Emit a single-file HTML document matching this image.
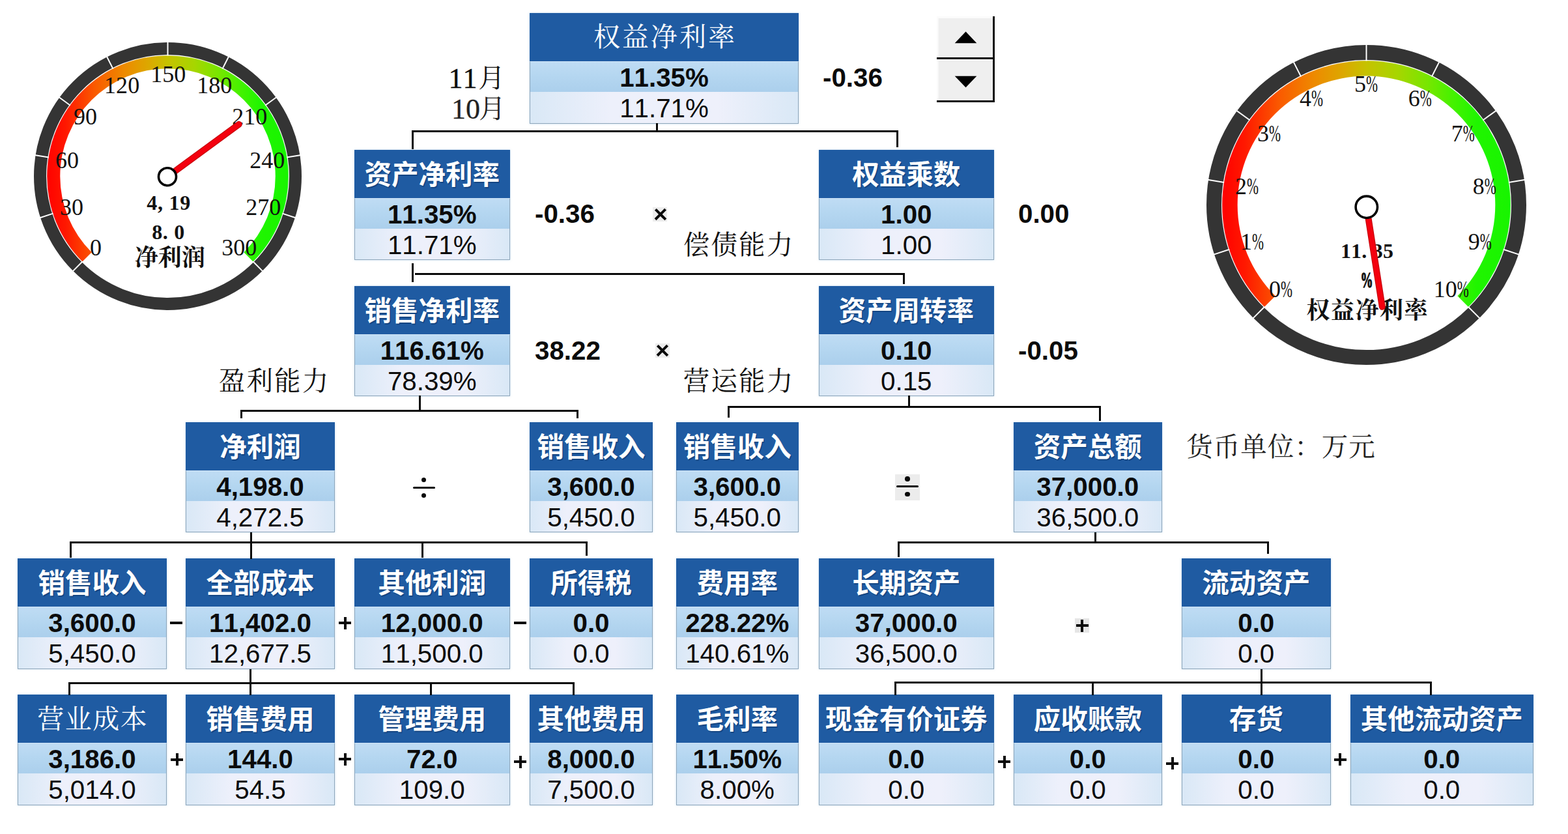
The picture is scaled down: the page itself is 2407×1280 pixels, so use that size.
<!DOCTYPE html>
<html lang="zh"><head><meta charset="utf-8"><title>杜邦分析</title>
<style>
html,body{margin:0;padding:0}
body{width:2407px;height:1280px;position:relative;overflow:hidden;background:#fff;font-family:"Liberation Sans",sans-serif;color:#0b0b0b;font-kerning:none}
.g{position:absolute;overflow:visible}
.bx{position:absolute;box-sizing:border-box;box-shadow:0 0 3px rgba(150,195,230,.55)}
.hd{height:74px;background:#1f5ba2}
.r1,.r2{box-sizing:border-box;text-align:center;font-size:40.3px;white-space:nowrap;border-left:1.5px solid #8ea6ba;border-right:1.5px solid #8ea6ba}
.r1{height:47px;line-height:50px;font-weight:bold;background:linear-gradient(#bfdcf4,#b4d6f0 50%,#abcfec);border-top:1.5px solid #cfe4f6}
.r2{height:48.5px;line-height:51px;background:linear-gradient(90deg,#d9e8f6,#edf0fb 30%,#eef0fb 70%,#d9e8f6);border-bottom:1.5px solid #8ea6ba}
.ln{position:absolute;background:#0a0a0a;display:block}
.t{position:absolute;white-space:nowrap;font-size:40.3px;line-height:40px}
.b{font-weight:bold}
.ht{position:absolute;white-space:nowrap;line-height:1}
.hb{color:#fff;font-weight:bold;font-family:"Liberation Sans","Noto Sans CJK SC",sans-serif;text-shadow:1.5px 2px 0 rgba(13,52,104,.55)}
.hs{color:#fff;font-family:"Liberation Serif","Noto Serif CJK SC",serif}
.ls{color:#111;font-family:"Liberation Serif","Noto Serif CJK SC",serif}
.gl{font-family:"Liberation Serif","Noto Serif CJK SC",serif;fill:#111}
.op{position:absolute;background:#0a0a0a}
</style></head><body>

<div class="bx" style="left:813.0px;top:20.0px;width:413.0px">
<div class="hd"></div><div class="r1">11.35%</div><div class="r2">11.71%</div></div>
<span class="ht hs" style="left:911.0px;top:37.4px;font-size:41px;letter-spacing:3px">权益净利率</span>
<div class="bx" style="left:543.5px;top:229.5px;width:239.5px">
<div class="hd"></div><div class="r1">11.35%</div><div class="r2">11.71%</div></div>
<span class="ht hb" style="left:559.5px;top:247.6px;font-size:41.5px;letter-spacing:0px">资产净利率</span>
<div class="bx" style="left:1256.5px;top:229.5px;width:269.5px">
<div class="hd"></div><div class="r1">1.00</div><div class="r2">1.00</div></div>
<span class="ht hb" style="left:1308.2px;top:247.6px;font-size:41.5px;letter-spacing:0px">权益乘数</span>
<div class="bx" style="left:543.5px;top:438.7px;width:239.5px">
<div class="hd"></div><div class="r1">116.61%</div><div class="r2">78.39%</div></div>
<span class="ht hb" style="left:559.5px;top:456.8px;font-size:41.5px;letter-spacing:0px">销售净利率</span>
<div class="bx" style="left:1256.5px;top:438.7px;width:269.5px">
<div class="hd"></div><div class="r1">0.10</div><div class="r2">0.15</div></div>
<span class="ht hb" style="left:1287.5px;top:456.8px;font-size:41.5px;letter-spacing:0px">资产周转率</span>
<div class="bx" style="left:285.0px;top:647.5px;width:229.0px">
<div class="hd"></div><div class="r1">4,198.0</div><div class="r2">4,272.5</div></div>
<span class="ht hb" style="left:337.2px;top:665.6px;font-size:41.5px;letter-spacing:0px">净利润</span>
<div class="bx" style="left:813.0px;top:647.5px;width:189.0px">
<div class="hd"></div><div class="r1">3,600.0</div><div class="r2">5,450.0</div></div>
<span class="ht hb" style="left:824.5px;top:665.6px;font-size:41.5px;letter-spacing:0px">销售收入</span>
<div class="bx" style="left:1037.5px;top:647.5px;width:188.5px">
<div class="hd"></div><div class="r1">3,600.0</div><div class="r2">5,450.0</div></div>
<span class="ht hb" style="left:1048.8px;top:665.6px;font-size:41.5px;letter-spacing:0px">销售收入</span>
<div class="bx" style="left:1555.5px;top:647.5px;width:228.5px">
<div class="hd"></div><div class="r1">37,000.0</div><div class="r2">36,500.0</div></div>
<span class="ht hb" style="left:1586.8px;top:665.6px;font-size:41.5px;letter-spacing:0px">资产总额</span>
<div class="bx" style="left:27.0px;top:857.0px;width:229.0px">
<div class="hd"></div><div class="r1">3,600.0</div><div class="r2">5,450.0</div></div>
<span class="ht hb" style="left:58.5px;top:875.1px;font-size:41.5px;letter-spacing:0px">销售收入</span>
<div class="bx" style="left:285.0px;top:857.0px;width:229.0px">
<div class="hd"></div><div class="r1">11,402.0</div><div class="r2">12,677.5</div></div>
<span class="ht hb" style="left:316.5px;top:875.1px;font-size:41.5px;letter-spacing:0px">全部成本</span>
<div class="bx" style="left:543.5px;top:857.0px;width:239.5px">
<div class="hd"></div><div class="r1">12,000.0</div><div class="r2">11,500.0</div></div>
<span class="ht hb" style="left:580.2px;top:875.1px;font-size:41.5px;letter-spacing:0px">其他利润</span>
<div class="bx" style="left:813.0px;top:857.0px;width:189.0px">
<div class="hd"></div><div class="r1">0.0</div><div class="r2">0.0</div></div>
<span class="ht hb" style="left:845.2px;top:875.1px;font-size:41.5px;letter-spacing:0px">所得税</span>
<div class="bx" style="left:1037.5px;top:857.0px;width:188.5px">
<div class="hd"></div><div class="r1">228.22%</div><div class="r2">140.61%</div></div>
<span class="ht hb" style="left:1069.5px;top:875.1px;font-size:41.5px;letter-spacing:0px">费用率</span>
<div class="bx" style="left:1256.5px;top:857.0px;width:269.5px">
<div class="hd"></div><div class="r1">37,000.0</div><div class="r2">36,500.0</div></div>
<span class="ht hb" style="left:1308.2px;top:875.1px;font-size:41.5px;letter-spacing:0px">长期资产</span>
<div class="bx" style="left:1814.0px;top:857.0px;width:228.5px">
<div class="hd"></div><div class="r1">0.0</div><div class="r2">0.0</div></div>
<span class="ht hb" style="left:1845.2px;top:875.1px;font-size:41.5px;letter-spacing:0px">流动资产</span>
<div class="bx" style="left:27.0px;top:1066.3px;width:229.0px">
<div class="hd"></div><div class="r1">3,186.0</div><div class="r2">5,014.0</div></div>
<span class="ht hs" style="left:57.2px;top:1083.7px;font-size:41px;letter-spacing:1.5px">营业成本</span>
<div class="bx" style="left:285.0px;top:1066.3px;width:229.0px">
<div class="hd"></div><div class="r1">144.0</div><div class="r2">54.5</div></div>
<span class="ht hb" style="left:316.5px;top:1084.4px;font-size:41.5px;letter-spacing:0px">销售费用</span>
<div class="bx" style="left:543.5px;top:1066.3px;width:239.5px">
<div class="hd"></div><div class="r1">72.0</div><div class="r2">109.0</div></div>
<span class="ht hb" style="left:580.2px;top:1084.4px;font-size:41.5px;letter-spacing:0px">管理费用</span>
<div class="bx" style="left:813.0px;top:1066.3px;width:189.0px">
<div class="hd"></div><div class="r1">8,000.0</div><div class="r2">7,500.0</div></div>
<span class="ht hb" style="left:824.5px;top:1084.4px;font-size:41.5px;letter-spacing:0px">其他费用</span>
<div class="bx" style="left:1037.5px;top:1066.3px;width:188.5px">
<div class="hd"></div><div class="r1">11.50%</div><div class="r2">8.00%</div></div>
<span class="ht hb" style="left:1069.5px;top:1084.4px;font-size:41.5px;letter-spacing:0px">毛利率</span>
<div class="bx" style="left:1256.5px;top:1066.3px;width:269.5px">
<div class="hd"></div><div class="r1">0.0</div><div class="r2">0.0</div></div>
<span class="ht hb" style="left:1266.8px;top:1084.4px;font-size:41.5px;letter-spacing:0px">现金有价证券</span>
<div class="bx" style="left:1555.5px;top:1066.3px;width:228.5px">
<div class="hd"></div><div class="r1">0.0</div><div class="r2">0.0</div></div>
<span class="ht hb" style="left:1586.8px;top:1084.4px;font-size:41.5px;letter-spacing:0px">应收账款</span>
<div class="bx" style="left:1814.0px;top:1066.3px;width:228.5px">
<div class="hd"></div><div class="r1">0.0</div><div class="r2">0.0</div></div>
<span class="ht hb" style="left:1886.8px;top:1084.4px;font-size:41.5px;letter-spacing:0px">存货</span>
<div class="bx" style="left:2073.0px;top:1066.3px;width:280.5px">
<div class="hd"></div><div class="r1">0.0</div><div class="r2">0.0</div></div>
<span class="ht hb" style="left:2088.8px;top:1084.4px;font-size:41.5px;letter-spacing:0px">其他流动资产</span>
<i class="ln" style="left:1006.5px;top:189.0px;width:3.0px;height:13.0px"></i>
<i class="ln" style="left:631.5px;top:200.0px;width:747.0px;height:3.0px"></i>
<i class="ln" style="left:631.5px;top:201.0px;width:3.0px;height:28.0px"></i>
<i class="ln" style="left:1375.5px;top:201.0px;width:3.0px;height:25.0px"></i>
<i class="ln" style="left:631.5px;top:404.0px;width:3.0px;height:29.0px"></i>
<i class="ln" style="left:636.5px;top:419.0px;width:752.0px;height:3.0px"></i>
<i class="ln" style="left:1385.5px;top:420.0px;width:3.0px;height:16.0px"></i>
<i class="ln" style="left:643.0px;top:607.0px;width:3.0px;height:25.0px"></i>
<i class="ln" style="left:369.0px;top:629.0px;width:518.5px;height:3.0px"></i>
<i class="ln" style="left:369.0px;top:630.0px;width:3.0px;height:12.0px"></i>
<i class="ln" style="left:884.5px;top:630.0px;width:3.0px;height:12.0px"></i>
<i class="ln" style="left:1393.5px;top:607.0px;width:3.0px;height:19.0px"></i>
<i class="ln" style="left:1116.5px;top:623.0px;width:573.0px;height:3.0px"></i>
<i class="ln" style="left:1116.5px;top:624.0px;width:3.0px;height:17.0px"></i>
<i class="ln" style="left:1686.5px;top:624.0px;width:3.0px;height:22.0px"></i>
<i class="ln" style="left:384.0px;top:817.0px;width:3.0px;height:41.0px"></i>
<i class="ln" style="left:106.5px;top:830.5px;width:795.0px;height:3.0px"></i>
<i class="ln" style="left:106.5px;top:832.0px;width:3.0px;height:24.0px"></i>
<i class="ln" style="left:647.0px;top:832.0px;width:3.0px;height:24.0px"></i>
<i class="ln" style="left:898.5px;top:832.0px;width:3.0px;height:21.0px"></i>
<i class="ln" style="left:383.2px;top:1027.0px;width:3.0px;height:40.0px"></i>
<i class="ln" style="left:105.0px;top:1046.5px;width:776.7px;height:3.0px"></i>
<i class="ln" style="left:105.0px;top:1048.0px;width:3.0px;height:19.0px"></i>
<i class="ln" style="left:660.0px;top:1048.0px;width:3.0px;height:19.0px"></i>
<i class="ln" style="left:878.7px;top:1048.0px;width:3.0px;height:19.0px"></i>
<i class="ln" style="left:1679.5px;top:817.0px;width:3.0px;height:16.0px"></i>
<i class="ln" style="left:1378.0px;top:831.0px;width:570.0px;height:3.0px"></i>
<i class="ln" style="left:1378.0px;top:832.0px;width:3.0px;height:23.0px"></i>
<i class="ln" style="left:1945.0px;top:832.0px;width:3.0px;height:18.0px"></i>
<i class="ln" style="left:1934.7px;top:1027.0px;width:3.0px;height:40.0px"></i>
<i class="ln" style="left:1372.5px;top:1046.0px;width:825.5px;height:3.0px"></i>
<i class="ln" style="left:1372.5px;top:1047.0px;width:3.0px;height:20.0px"></i>
<i class="ln" style="left:1675.9px;top:1047.0px;width:3.0px;height:20.0px"></i>
<i class="ln" style="left:2195.0px;top:1047.0px;width:3.0px;height:20.0px"></i>
<div class="t b" style="left:1263.0px;top:100.0px">-0.36</div>
<div class="t b" style="left:821.0px;top:309.2px">-0.36</div>
<div class="t b" style="left:1563.0px;top:309.2px">0.00</div>
<div class="t b" style="left:821.0px;top:518.5px">38.22</div>
<div class="t b" style="left:1563.0px;top:518.5px">-0.05</div>
<i class="op" style="background:#ededed;left:1002.4px;top:318.0px;width:22.0px;height:22.0px"></i>
<i class="op" style="left:1002.5px;top:326.8px;width:21.7px;height:4.4px;transform:rotate(45deg)"></i>
<i class="op" style="left:1002.5px;top:326.8px;width:21.7px;height:4.4px;transform:rotate(-45deg)"></i>
<i class="op" style="background:#ededed;left:1005.5px;top:527.0px;width:22.0px;height:22.0px"></i>
<i class="op" style="left:1005.6px;top:535.8px;width:21.7px;height:4.4px;transform:rotate(45deg)"></i>
<i class="op" style="left:1005.6px;top:535.8px;width:21.7px;height:4.4px;transform:rotate(-45deg)"></i>
<i class="op" style="border-radius:2px;left:633.5px;top:746.8px;width:34.0px;height:3.5px"></i>
<i class="op" style="border-radius:50%;left:647.0px;top:733.2px;width:7.0px;height:7.0px"></i>
<i class="op" style="border-radius:50%;left:647.0px;top:756.8px;width:7.0px;height:7.0px"></i>
<i class="op" style="background:#ececec;left:1374.0px;top:727.7px;width:38.3px;height:40.3px"></i>
<i class="op" style="border-radius:2px;left:1376.2px;top:744.9px;width:34.0px;height:3.4px"></i>
<i class="op" style="border-radius:50%;left:1389.4px;top:731.1px;width:7.6px;height:7.6px"></i>
<i class="op" style="border-radius:50%;left:1389.4px;top:754.6px;width:7.6px;height:7.6px"></i>
<i class="op" style="left:261.2px;top:954.0px;width:19.0px;height:4.0px"></i>
<i class="op" style="left:520.0px;top:954.0px;width:19.0px;height:4.0px"></i>
<i class="op" style="left:527.5px;top:946.5px;width:4.0px;height:19.0px"></i>
<i class="op" style="left:789.2px;top:954.0px;width:19.0px;height:4.0px"></i>
<i class="op" style="left:262.2px;top:1163.5px;width:19.0px;height:4.0px"></i>
<i class="op" style="left:269.7px;top:1156.0px;width:4.0px;height:19.0px"></i>
<i class="op" style="left:520.0px;top:1163.0px;width:19.0px;height:4.0px"></i>
<i class="op" style="left:527.5px;top:1155.5px;width:4.0px;height:19.0px"></i>
<i class="op" style="left:789.2px;top:1167.0px;width:19.0px;height:4.0px"></i>
<i class="op" style="left:796.7px;top:1159.5px;width:4.0px;height:19.0px"></i>
<i class="op" style="background:#e6e6e6;left:1650.4px;top:949.3px;width:22.0px;height:22.0px"></i>
<i class="op" style="left:1651.9px;top:958.3px;width:19.0px;height:4.0px"></i>
<i class="op" style="left:1659.4px;top:950.8px;width:4.0px;height:19.0px"></i>
<i class="op" style="left:1532.2px;top:1167.0px;width:19.0px;height:4.0px"></i>
<i class="op" style="left:1539.7px;top:1159.5px;width:4.0px;height:19.0px"></i>
<i class="op" style="left:1790.1px;top:1169.5px;width:19.0px;height:4.0px"></i>
<i class="op" style="left:1797.6px;top:1162.0px;width:4.0px;height:19.0px"></i>
<i class="op" style="left:2047.9px;top:1163.5px;width:19.0px;height:4.0px"></i>
<i class="op" style="left:2055.4px;top:1156.0px;width:4.0px;height:19.0px"></i>
<span class="ht ls" style="left:1048.7px;top:357.4px;font-size:40.5px;letter-spacing:2.2px">偿债能力</span>
<span class="ht ls" style="left:335.7px;top:566.4px;font-size:40.5px;letter-spacing:2.2px">盈利能力</span>
<span class="ht ls" style="left:1048.7px;top:566.4px;font-size:40.5px;letter-spacing:2.2px">营运能力</span>
<span class="ht ls" style="left:1821.2px;top:667.4px;font-size:40.5px;letter-spacing:1px;color:#222">货币单位：万元</span>
<div class="t" style="font-family:'Liberation Serif',serif;left:688.5px;top:100.5px;font-size:44px;-webkit-text-stroke:.4px #111">11</div>
<span class="ht ls" style="left:734.0px;top:100.4px;font-size:41px;letter-spacing:0px">月</span>
<div class="t" style="font-family:'Liberation Serif',serif;left:693px;top:147.8px;font-size:44px;color:#222;-webkit-text-stroke:.3px #222">10</div>
<span class="ht ls" style="left:735.0px;top:147.4px;font-size:41px;letter-spacing:0px;color:#222">月</span>
<div style="position:absolute;left:1438px;top:25px;width:86px;height:129px;background:#efefef;border-right:3px solid #111;border-bottom:3px solid #111;box-shadow:inset 2.5px 3px 0 #fbfbfb"></div>
<i class="op" style="left:1438px;top:87.5px;width:86px;height:3px"></i><i class="op" style="background:#fbfbfb;left:1438px;top:90.5px;width:86px;height:2.6px"></i>
<svg class="g" style="left:1438px;top:25px" width="88" height="131" viewBox="1438 25 88 131"><path d="M1482.5 48.6L1499.3 66.2H1465.7Z"/><path d="M1482.5 134.3L1499.3 116.7H1465.7Z"/></svg>
<svg class="g" style="left:46.0px;top:59.3px" width="423" height="423" viewBox="46.0 59.3 422.6 422.6"><defs><linearGradient id="grL" gradientUnits="userSpaceOnUse" x1="71.0" y1="0" x2="443.6" y2="0"><stop offset="0" stop-color="#ff0000"/><stop offset="0.08" stop-color="#ff1800"/><stop offset="0.2" stop-color="#fa5a00"/><stop offset="0.32" stop-color="#ee8a00"/><stop offset="0.42" stop-color="#dca800"/><stop offset="0.5" stop-color="#c6c200"/><stop offset="0.61" stop-color="#a6d600"/><stop offset="0.71" stop-color="#78e600"/><stop offset="0.8" stop-color="#44f200"/><stop offset="0.88" stop-color="#20f500"/><stop offset="1" stop-color="#18f400"/></linearGradient></defs><circle cx="257.3" cy="270.6" r="195.8" fill="none" stroke="#343434" stroke-width="19.0"/><path d="M126.4 401.5A185.1 185.1 0 1 1 388.2 401.5L374.0 387.3A165.1 165.1 0 1 0 140.6 387.3Z" fill="url(#grL)"/><line x1="126.6" y1="401.3" x2="111.1" y2="416.8" stroke="#fff" stroke-width="2"/><line x1="81.5" y1="327.7" x2="60.6" y2="334.5" stroke="#fff" stroke-width="2"/><line x1="74.8" y1="241.7" x2="53.0" y2="238.2" stroke="#fff" stroke-width="2"/><line x1="107.8" y1="162.0" x2="90.0" y2="149.0" stroke="#fff" stroke-width="2"/><line x1="173.4" y1="105.9" x2="163.4" y2="86.3" stroke="#fff" stroke-width="2"/><line x1="257.3" y1="85.8" x2="257.3" y2="63.8" stroke="#fff" stroke-width="2"/><line x1="341.2" y1="105.9" x2="351.2" y2="86.3" stroke="#fff" stroke-width="2"/><line x1="406.8" y1="162.0" x2="424.6" y2="149.0" stroke="#fff" stroke-width="2"/><line x1="439.8" y1="241.7" x2="461.6" y2="238.2" stroke="#fff" stroke-width="2"/><line x1="433.1" y1="327.7" x2="454.0" y2="334.5" stroke="#fff" stroke-width="2"/><line x1="388.0" y1="401.3" x2="403.5" y2="416.8" stroke="#fff" stroke-width="2"/><text x="147.0" y="392.0" class="gl" font-size="36" text-anchor="middle">0</text><text x="110.0" y="330.0" class="gl" font-size="36" text-anchor="middle">30</text><text x="103.0" y="258.0" class="gl" font-size="36" text-anchor="middle">60</text><text x="131.0" y="191.0" class="gl" font-size="36" text-anchor="middle">90</text><text x="187.0" y="143.0" class="gl" font-size="36" text-anchor="middle">120</text><text x="258.0" y="126.0" class="gl" font-size="36" text-anchor="middle">150</text><text x="329.0" y="143.0" class="gl" font-size="36" text-anchor="middle">180</text><text x="383.0" y="191.0" class="gl" font-size="36" text-anchor="middle">210</text><text x="410.0" y="258.0" class="gl" font-size="36" text-anchor="middle">240</text><text x="404.0" y="330.0" class="gl" font-size="36" text-anchor="middle">270</text><text x="367.0" y="392.0" class="gl" font-size="36" text-anchor="middle">300</text><text x="225" y="322" font-size="32" font-weight="bold" textLength="67" class="gl">4, 19</text><text x="233" y="367" font-size="32" font-weight="bold" textLength="50" class="gl">8. 0</text><text x="206.5" y="408" font-size="36" font-weight="bold" class="gl">净利润</text><line x1="269.1" y1="262.3" x2="366.5" y2="191.0" stroke="#c8000c" stroke-width="10" stroke-linecap="round"/><line x1="269.1" y1="262.3" x2="366.5" y2="191.0" stroke="#f4000f" stroke-width="7.5" stroke-linecap="round"/><circle cx="256.8" cy="271.3" r="13.5" fill="#fff" stroke="#000" stroke-width="3.6"/></svg>
<svg class="g" style="left:1846.0px;top:62.5px" width="503" height="503" viewBox="1846.0 62.5 503.2 503.2"><defs><linearGradient id="grR" gradientUnits="userSpaceOnUse" x1="1875.0" y1="0" x2="2320.2" y2="0"><stop offset="0" stop-color="#ff0000"/><stop offset="0.08" stop-color="#ff1800"/><stop offset="0.2" stop-color="#fa5a00"/><stop offset="0.32" stop-color="#ee8a00"/><stop offset="0.42" stop-color="#dca800"/><stop offset="0.5" stop-color="#c6c200"/><stop offset="0.61" stop-color="#a6d600"/><stop offset="0.71" stop-color="#78e600"/><stop offset="0.8" stop-color="#44f200"/><stop offset="0.88" stop-color="#20f500"/><stop offset="1" stop-color="#18f400"/></linearGradient></defs><circle cx="2097.6" cy="314.1" r="234.1" fill="none" stroke="#343434" stroke-width="23.0"/><path d="M1941.0 470.7A221.4 221.4 0 1 1 2254.2 470.7L2237.5 454.0A197.9 197.9 0 1 0 1957.7 454.0Z" fill="url(#grR)"/><line x1="1941.3" y1="470.4" x2="1922.9" y2="488.8" stroke="#fff" stroke-width="2"/><line x1="1887.3" y1="382.4" x2="1862.6" y2="390.5" stroke="#fff" stroke-width="2"/><line x1="1879.2" y1="279.5" x2="1853.5" y2="275.4" stroke="#fff" stroke-width="2"/><line x1="1918.7" y1="184.1" x2="1897.7" y2="168.9" stroke="#fff" stroke-width="2"/><line x1="1997.2" y1="117.1" x2="1985.4" y2="93.9" stroke="#fff" stroke-width="2"/><line x1="2097.6" y1="93.0" x2="2097.6" y2="67.0" stroke="#fff" stroke-width="2"/><line x1="2198.0" y1="117.1" x2="2209.8" y2="93.9" stroke="#fff" stroke-width="2"/><line x1="2276.5" y1="184.1" x2="2297.5" y2="168.9" stroke="#fff" stroke-width="2"/><line x1="2316.0" y1="279.5" x2="2341.7" y2="275.4" stroke="#fff" stroke-width="2"/><line x1="2307.9" y1="382.4" x2="2332.6" y2="390.5" stroke="#fff" stroke-width="2"/><line x1="2253.9" y1="470.4" x2="2272.3" y2="488.8" stroke="#fff" stroke-width="2"/><text x="1948.0" y="456.0" class="gl" font-size="36">0</text><text transform="translate(1966.0,456.0) scale(.6,1)" class="gl" font-size="36">%</text><text x="1904.0" y="383.0" class="gl" font-size="36">1</text><text transform="translate(1922.0,383.0) scale(.6,1)" class="gl" font-size="36">%</text><text x="1896.0" y="298.0" class="gl" font-size="36">2</text><text transform="translate(1914.0,298.0) scale(.6,1)" class="gl" font-size="36">%</text><text x="1930.0" y="217.0" class="gl" font-size="36">3</text><text transform="translate(1948.0,217.0) scale(.6,1)" class="gl" font-size="36">%</text><text x="1995.0" y="163.0" class="gl" font-size="36">4</text><text transform="translate(2013.0,163.0) scale(.6,1)" class="gl" font-size="36">%</text><text x="2079.0" y="141.0" class="gl" font-size="36">5</text><text transform="translate(2097.0,141.0) scale(.6,1)" class="gl" font-size="36">%</text><text x="2162.0" y="163.0" class="gl" font-size="36">6</text><text transform="translate(2180.0,163.0) scale(.6,1)" class="gl" font-size="36">%</text><text x="2228.0" y="217.0" class="gl" font-size="36">7</text><text transform="translate(2246.0,217.0) scale(.6,1)" class="gl" font-size="36">%</text><text x="2261.0" y="298.0" class="gl" font-size="36">8</text><text transform="translate(2279.0,298.0) scale(.6,1)" class="gl" font-size="36">%</text><text x="2254.0" y="383.0" class="gl" font-size="36">9</text><text transform="translate(2272.0,383.0) scale(.6,1)" class="gl" font-size="36">%</text><text x="2201.0" y="456.0" class="gl" font-size="36">10</text><text transform="translate(2237.0,456.0) scale(.6,1)" class="gl" font-size="36">%</text><text x="2058" y="396" font-size="32" font-weight="bold" textLength="81" class="gl">11. 35</text><text transform="translate(2088.5,441) scale(.56,1)" font-size="34" font-weight="bold" stroke="#111" stroke-width="1.3" class="gl">%</text><text x="2005.7" y="488.5" font-size="36" font-weight="bold" letter-spacing="1.5" class="gl">权益净利率</text><line x1="2100.8" y1="335.7" x2="2121.9" y2="470.5" stroke="#c8000c" stroke-width="10" stroke-linecap="round"/><line x1="2100.8" y1="335.7" x2="2121.9" y2="470.5" stroke="#f4000f" stroke-width="7.5" stroke-linecap="round"/><circle cx="2097.9" cy="317.4" r="16.7" fill="#fff" stroke="#000" stroke-width="3.6"/></svg>
</body></html>
